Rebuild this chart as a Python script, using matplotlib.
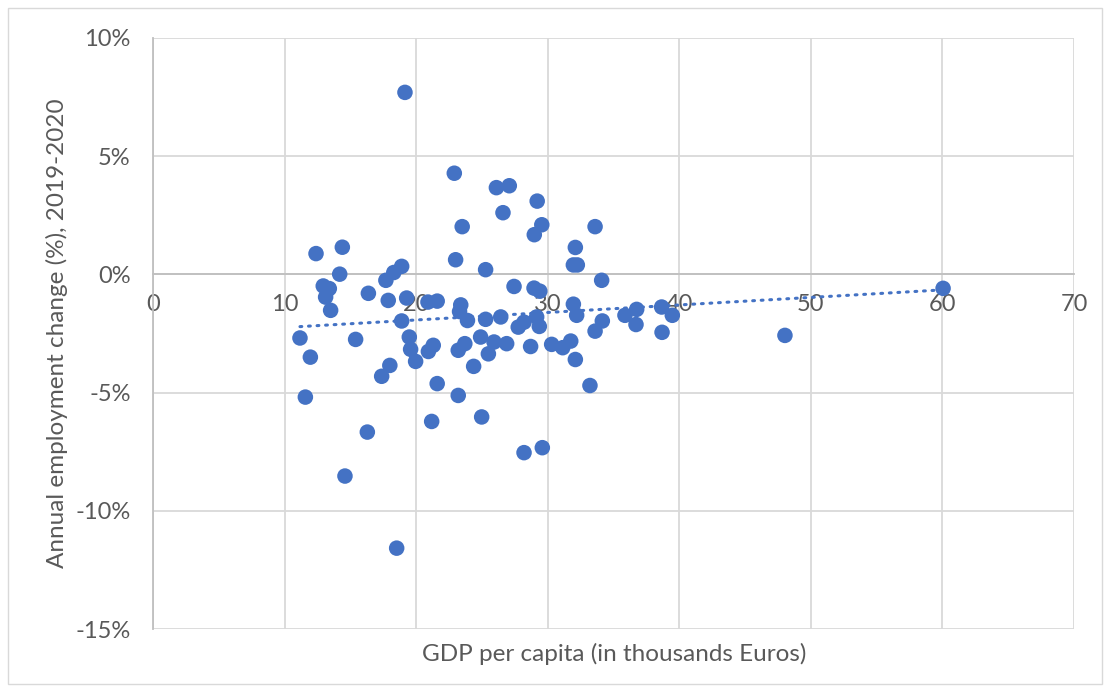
#!/usr/bin/env python3
"""GDP per capita vs annual employment change scatter with linear trend."""

import matplotlib
matplotlib.use("Agg")
import matplotlib.pyplot as plt
import numpy as np
from matplotlib.patches import Rectangle
from matplotlib.ticker import FuncFormatter

# GDP per capita (thousand euros) and employment change (%) per region
gdp = [
    19.15, 22.9, 26.1, 27.08, 29.2, 26.6, 23.5, 29.55, 33.6, 28.98,
    32.1, 31.95, 32.25, 34.1, 23.0, 25.28, 27.44, 28.96, 29.4, 12.39,
    14.39, 14.19, 12.94, 13.4, 13.12, 13.5, 16.37, 17.88, 19.28, 20.9,
    21.6, 17.7, 18.9, 18.3, 18.9, 23.39, 23.3, 23.9, 25.28, 26.43,
    27.76, 28.2, 29.16, 29.36, 31.95, 32.2, 34.15, 33.6, 35.87, 36.76,
    36.71, 38.66, 39.47, 38.69, 24.9, 25.92, 26.88, 28.7, 30.3, 31.14,
    31.75, 23.2, 23.7, 25.49, 32.1, 24.37, 23.2, 24.98, 28.2, 29.59,
    33.21, 21.6, 11.17, 11.96, 15.4, 19.48, 19.58, 20.93, 21.3, 19.96,
    18.0, 17.38, 11.58, 16.29, 14.59, 18.52, 21.18, 60.05, 48.03,
]
emp_change = [
    7.70, 4.28, 3.67, 3.75, 3.10, 2.61, 2.02, 2.10, 2.02, 1.68,
    1.14, 0.40, 0.40, -0.25, 0.62, 0.20, -0.51, -0.58, -0.71, 0.88,
    1.15, 0.01, -0.49, -0.60, -0.96, -1.52, -0.80, -1.10, -1.00, -1.17,
    -1.13, -0.25, 0.34, 0.08, -1.97, -1.29, -1.57, -1.95, -1.90, -1.80,
    -2.23, -2.02, -1.80, -2.20, -1.26, -1.73, -1.97, -2.40, -1.73, -1.48,
    -2.12, -1.38, -1.73, -2.45, -2.65, -2.86, -2.93, -3.05, -2.96, -3.10,
    -2.82, -3.21, -2.93, -3.36, -3.60, -3.89, -5.12, -6.03, -7.54, -7.33,
    -4.70, -4.62, -2.69, -3.50, -2.75, -2.65, -3.17, -3.26, -3.00, -3.68,
    -3.85, -4.31, -5.19, -6.67, -8.53, -11.58, -6.22, -0.59, -2.58,
]

x_ticks = [0, 10, 20, 30, 40, 50, 60, 70]
y_ticks = [-15, -10, -5, 0, 5, 10]

BLUE = "#4472C4"
GRID = "#D9D9D9"
TEXT = "#595959"

plt.rcParams["font.family"] = ["Lato", "DejaVu Sans"]

fig = plt.figure(figsize=(11.10, 6.92), dpi=100)
fig.patches.append(Rectangle((8 / 1110, 8 / 692), 1094 / 1110, 676 / 692,
                             transform=fig.transFigure, fill=False,
                             edgecolor="#D9D9D9", linewidth=1))
ax = fig.add_axes([153 / 1110, 1 - 629 / 692, 921 / 1110, 591 / 692])

x = np.array(gdp)
y = np.array(emp_change)
ax.scatter(x, y, s=125, color=BLUE, edgecolors="none", zorder=3)

slope, intercept = np.polyfit(x, y, 1)
xs = np.array([x.min(), x.max()])
ax.plot(xs, slope * xs + intercept, color=BLUE, linewidth=2.2,
        linestyle=(0, (0.6, 2.2)), dash_capstyle="round", zorder=2)

ax.set_xlim(0, 70)
ax.set_ylim(-15, 10)
ax.set_xticks(x_ticks)
ax.set_yticks(y_ticks)
ax.yaxis.set_major_formatter(FuncFormatter(lambda v, _: f"{v:.0f}%"))
ax.grid(True, color=GRID, linewidth=1.3, zorder=0)
ax.set_axisbelow(True)

for side in ["top", "right"]:
    ax.spines[side].set_visible(False)
ax.spines["bottom"].set_position(("data", 0))
ax.spines["bottom"].set_color("#BFBFBF")
ax.spines["left"].set_color("#BFBFBF")
ax.spines["bottom"].set_linewidth(1.3)
ax.spines["left"].set_linewidth(1.3)
ax.tick_params(length=0, labelsize=17, colors=TEXT)
ax.tick_params(axis="x", pad=14)
ax.tick_params(axis="y", pad=16)

fig.text(614 / 1110, 1 - 654 / 692, "GDP per capita (in thousands Euros)",
         ha="center", va="center", fontsize=17.5, color=TEXT)
fig.text(57 / 1110, 1 - 333 / 692, "Annual employment change (%), 2019-2020",
         rotation=90, ha="center", va="center", fontsize=17.5, color=TEXT)

fig.savefig("out.png", dpi=100)
